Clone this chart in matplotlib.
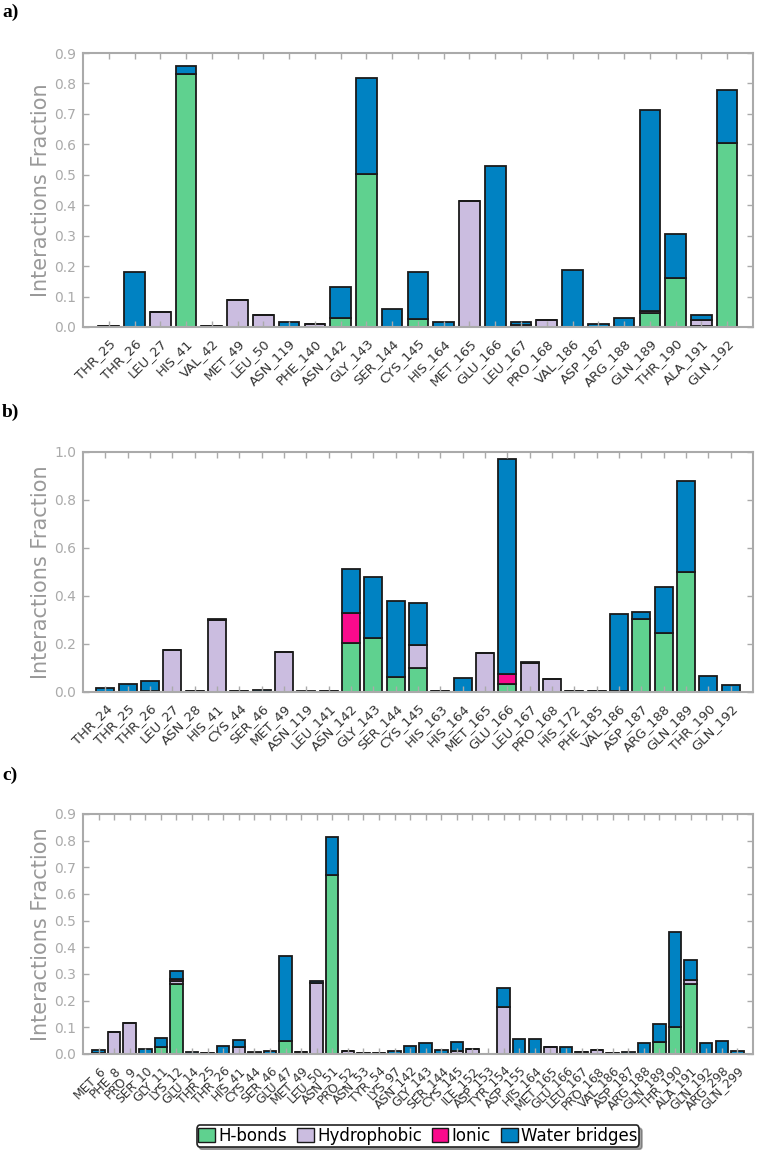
import matplotlib
matplotlib.use("Agg")
import matplotlib.pyplot as plt
from matplotlib.patches import Patch
import numpy as np

plt.rcParams['font.family'] = ['DejaVu Sans']

# colours for each interaction type
c_hb = "#5fd18f"
c_hyd = "#cbbde0"
c_ion = "#fa0a8c"
c_wb = "#0082c2"

# ---- panel a ----
res_a = ["THR_25", "THR_26", "LEU_27", "HIS_41", "VAL_42", "MET_49", "LEU_50", "ASN_119",
         "PHE_140", "ASN_142", "GLY_143", "SER_144", "CYS_145", "HIS_164", "MET_165", "GLU_166",
         "LEU_167", "PRO_168", "VAL_186", "ASP_187", "ARG_188", "GLN_189", "THR_190", "ALA_191", "GLN_192"]
hb_a = [0, 0, 0, 0.83, 0, 0, 0, 0, 0, 0.028, 0.503, 0, 0.025, 0, 0, 0,
        0, 0, 0, 0, 0, 0.047, 0.16, 0.004, 0.603]
hyd_a = [0.002, 0, 0.05, 0, 0.002, 0.089, 0.04, 0, 0.009, 0, 0, 0, 0, 0, 0.413, 0,
         0.006, 0.023, 0, 0, 0, 0.004, 0, 0.018, 0]
ion_a = [0] * 25
wb_a = [0, 0.18, 0, 0.028, 0, 0, 0, 0.0175, 0, 0.104, 0.315, 0.058, 0.157, 0.0175, 0, 0.528,
        0.01, 0, 0.186, 0.01, 0.031, 0.661, 0.146, 0.017, 0.177]

# ---- panel b ----
res_b = ["THR_24", "THR_25", "THR_26", "LEU_27", "ASN_28", "HIS_41", "CYS_44", "SER_46", "MET_49",
         "ASN_119", "LEU_141", "ASN_142", "GLY_143", "SER_144", "CYS_145", "HIS_163", "HIS_164",
         "MET_165", "GLU_166", "LEU_167", "PRO_168", "HIS_172", "PHE_185", "VAL_186", "ASP_187",
         "ARG_188", "GLN_189", "THR_190", "GLN_192"]
hb_b = [0, 0, 0, 0, 0, 0, 0, 0, 0, 0, 0, 0.203, 0.226, 0.0625, 0.099, 0, 0,
        0, 0.035, 0, 0, 0, 0, 0.005, 0.303, 0.244, 0.499, 0, 0]
hyd_b = [0, 0, 0.004, 0.175, 0.002, 0.298, 0.002, 0, 0.165, 0, 0.003, 0, 0, 0, 0.095, 0.002, 0,
         0.164, 0, 0.121, 0.053, 0.002, 0.002, 0, 0, 0, 0, 0, 0]
ion_b = [0, 0, 0, 0, 0, 0, 0, 0, 0, 0, 0, 0.126, 0, 0, 0, 0, 0,
         0, 0.039, 0, 0, 0, 0, 0, 0, 0, 0, 0, 0]
wb_b = [0.018, 0.035, 0.042, 0, 0, 0.005, 0, 0.008, 0, 0.006, 0.002, 0.185, 0.252, 0.3165, 0.177, 0, 0.058,
        0, 0.898, 0.004, 0, 0, 0, 0.32, 0.032, 0.192, 0.38, 0.068, 0.029]

# ---- panel c ----
res_c = ["MET_6", "PHE_8", "PRO_9", "SER_10", "GLY_11", "LYS_12", "GLU_14", "THR_25", "THR_26",
         "HIS_41", "CYS_44", "SER_46", "GLU_47", "MET_49", "LEU_50", "ASN_51", "PRO_52", "ASN_53",
         "TYR_54", "LYS_97", "ASN_142", "GLY_143", "SER_144", "CYS_145", "ILE_152", "ASP_153",
         "TYR_154", "ASP_155", "HIS_164", "MET_165", "GLU_166", "LEU_167", "PRO_168", "VAL_186",
         "ASP_187", "ARG_188", "GLN_189", "THR_190", "ALA_191", "GLN_192", "ARG_298", "GLN_299"]
hb_c = [0, 0, 0, 0, 0.025, 0.262, 0, 0, 0, 0, 0, 0, 0.049, 0, 0, 0.672, 0, 0,
        0, 0, 0, 0, 0, 0, 0, 0, 0, 0, 0, 0, 0, 0, 0, 0,
        0, 0, 0.046, 0.1, 0.262, 0, 0, 0]
hyd_c = [0.003, 0.084, 0.118, 0, 0, 0.01, 0, 0.003, 0, 0.025, 0.002, 0, 0, 0.009, 0.265, 0, 0.011, 0.003,
         0.003, 0, 0, 0, 0, 0.012, 0.018, 0, 0.178, 0, 0, 0.028, 0, 0.009, 0.014, 0.003,
         0, 0, 0, 0, 0.016, 0, 0, 0]
ion_c = [0] * 5 + [0.01] + [0] * 36
wb_c = [0.012, 0, 0, 0.019, 0.035, 0.031, 0.008, 0, 0.029, 0.028, 0.004, 0.011, 0.319, 0, 0.01, 0.143, 0, 0,
        0, 0.01, 0.029, 0.041, 0.016, 0.033, 0, 0, 0.071, 0.058, 0.058, 0, 0.028, 0, 0, 0,
        0.008, 0.041, 0.067, 0.357, 0.074, 0.041, 0.048, 0.011]


def draw_panel(ax, res, hb, hyd, ion, wb, ymax, ystep, xfont):
    x = np.arange(1, len(res) + 1)
    hb, hyd, ion, wb = map(np.array, (hb, hyd, ion, wb))
    base = np.zeros(len(res))
    for vals, col in [(hb, c_hb), (hyd, c_hyd), (ion, c_ion), (wb, c_wb)]:
        ax.bar(x, vals, 0.8, bottom=base, color=col, edgecolor="#1a1a1a", linewidth=1.3, zorder=2)
        base = base + vals
    ax.set_xlim(0, len(res) + 1)
    ax.set_ylim(0, ymax)
    ax.set_yticks(np.arange(0, ymax + 1e-6, ystep))
    ax.yaxis.set_major_formatter(matplotlib.ticker.FormatStrFormatter("%.1f"))
    ax.set_xticks(x)
    ax.set_xticklabels(res, rotation=45, ha="right", rotation_mode="anchor", fontsize=xfont, color="#333333")
    ax.tick_params(axis="y", labelsize=10, labelcolor="#aaaaaa", pad=5)
    ax.tick_params(axis="x", pad=7)
    ax.tick_params(direction="in", top=True, right=True, length=4, color="#aaaaaa", width=1)
    ax.set_ylabel("Interactions Fraction", fontsize=15, color="#999999")
    ax.yaxis.set_label_coords(-0.047, 0.5)
    for s in ax.spines.values():
        s.set_color("#aaaaaa")
        s.set_linewidth(1.5)
        s.set_zorder(5)
    ax.set_axisbelow(False)


fig = plt.figure(figsize=(7.57, 11.5), dpi=100)
ax_a = fig.add_axes([0.1096, 0.7157, 0.885, 0.2382])
ax_b = fig.add_axes([0.1096, 0.3983, 0.885, 0.2087])
ax_c = fig.add_axes([0.1096, 0.0835, 0.885, 0.2087])

draw_panel(ax_a, res_a, hb_a, hyd_a, ion_a, wb_a, 0.9, 0.1, 9.5)
draw_panel(ax_b, res_b, hb_b, hyd_b, ion_b, wb_b, 1.0, 0.2, 9.5)
draw_panel(ax_c, res_c, hb_c, hyd_c, ion_c, wb_c, 0.9, 0.1, 8.8)

for lab, yy in [("a)", 0.9896), ("b)", 0.6417), ("c)", 0.326)]:
    fig.text(0.003, yy, lab, fontsize=14, fontweight="bold", family="Liberation Serif", va="center")

handles = [Patch(facecolor=c_hb, edgecolor="#1a1a1a", label="H-bonds"),
           Patch(facecolor=c_hyd, edgecolor="#1a1a1a", label="Hydrophobic"),
           Patch(facecolor=c_ion, edgecolor="#1a1a1a", label="Ionic"),
           Patch(facecolor=c_wb, edgecolor="#1a1a1a", label="Water bridges")]
leg = fig.legend(handles=handles, loc="center", bbox_to_anchor=(0.552, 0.0122), ncol=4, fontsize=12,
                 handlelength=1.0, handleheight=0.9, handletextpad=0.2, columnspacing=0.6,
                 borderpad=0.1, borderaxespad=0, fancybox=True, shadow=True)
leg.get_frame().set_edgecolor("#222222")
leg.get_frame().set_linewidth(1.2)

fig.savefig("out.png", dpi=100)
